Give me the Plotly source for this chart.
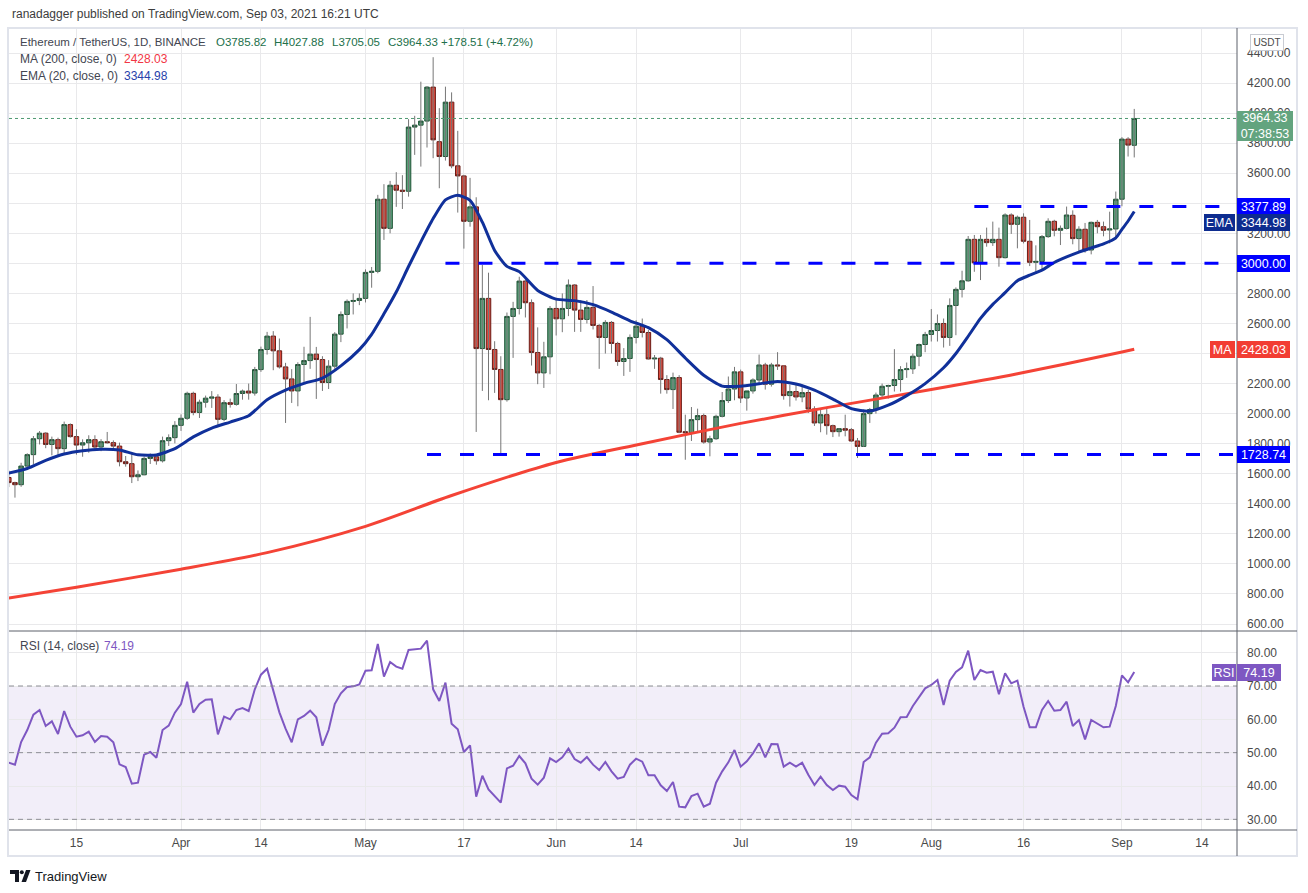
import plotly.graph_objects as go
import pandas as pd

# ---------------- data ----------------
dates = pd.date_range("2021-03-04", "2021-09-03", freq="D").strftime("%Y-%m-%d").tolist()

open_px = [
    1575, 1541, 1527, 1651, 1727, 1833, 1870, 1795, 1827, 1767, 1927, 1847, 1791, 1806, 1827, 1778, 1813, 1807, 1784, 1680, 1667, 1580, 1593, 1702, 1713, 1686, 1820, 1840,
    1922, 1969, 2135, 2008, 2076, 2103, 2110, 1962, 2073, 2062, 2134, 2150, 2137, 2293, 2427, 2516, 2418, 2311, 2231, 2151, 2327, 2353, 2396, 2360, 2207, 2316, 2529, 2660, 2747, 2753,
    2767, 2940, 2947, 3427, 3233, 3520, 3487, 3480, 3907, 3920, 3947, 4173, 3810, 3711, 4073, 3649, 3582, 3280, 3376, 2433, 2767, 2427, 2294, 2093, 2647, 2700, 2882, 2738, 2407, 2271, 2378,
    2700, 2631, 2700, 2856, 2689, 2627, 2707, 2587, 2507, 2607, 2467, 2347, 2367, 2507, 2582, 2540, 2364, 2369, 2227, 2160, 2240, 1880, 1873, 1960, 1987, 1811, 1833, 1982, 2087, 2164,
    2278, 2104, 2151, 2224, 2324, 2196, 2324, 2318, 2120, 2147, 2111, 2140, 2031, 1938, 1993, 1920, 1880, 1900, 1893, 1818, 1782, 2000, 2027, 2124, 2182, 2187, 2227, 2293, 2298, 2382, 2460,
    2527, 2553, 2600, 2507, 2720, 2827, 2884, 3160, 3004, 3160, 3138, 3160, 3038, 3322, 3260, 3307, 3147, 3007, 3013, 3178, 3280, 3220, 3233, 3320, 3165, 3227, 3089, 3273, 3244, 3222, 3229,
    3427, 3827, 3785.82,
]
high_px = [
    1622, 1547, 1673, 1736, 1851, 1884, 1876, 1847, 1840, 1947, 1935, 1896, 1829, 1856, 1856, 1830, 1878, 1822, 1807, 1718, 1745, 1622, 1715, 1735, 1728, 1847, 1862, 1950,
    1995, 2146, 2146, 2093, 2120, 2150, 2129, 2090, 2100, 2197, 2160, 2200, 2311, 2446, 2544, 2549, 2500, 2338, 2296, 2342, 2445, 2644, 2444, 2382, 2356, 2542, 2680, 2760, 2800, 2800,
    2960, 2976, 3456, 3527, 3549, 3607, 3587, 3960, 3982, 4209, 4180, 4372, 4033, 4176, 4138, 3882, 3589, 3569, 3440, 2989, 2938, 2482, 2382, 2673, 2744, 2911, 2893, 2760, 2574, 2478, 2716,
    2760, 2800, 2893, 2862, 2756, 2756, 2849, 2596, 2622, 2616, 2478, 2436, 2527, 2622, 2633, 2556, 2390, 2378, 2256, 2273, 2256, 1993, 2044, 2033, 2000, 1853, 1993, 2144, 2247, 2311,
    2293, 2113, 2235, 2393, 2338, 2338, 2409, 2318, 2193, 2193, 2193, 2160, 2049, 2031, 2042, 1927, 1902, 1993, 1904, 1838, 2027, 2038, 2140, 2200, 2193, 2429, 2316, 2340, 2400, 2467, 2544,
    2696, 2660, 2633, 2767, 2840, 2951, 3182, 3189, 3189, 3238, 3278, 3238, 3333, 3333, 3318, 3333, 3289, 3120, 3189, 3300, 3290, 3252, 3378, 3353, 3247, 3269, 3278, 3289, 3278, 3344, 3478,
    3840, 3840, 4027.88,
]
low_px = [
    1511, 1441, 1513, 1640, 1662, 1795, 1770, 1722, 1715, 1727, 1840, 1727, 1713, 1740, 1760, 1750, 1800, 1765, 1649, 1647, 1538, 1551, 1590, 1665, 1660, 1675, 1785, 1802,
    1885, 1958, 1989, 1971, 2040, 2038, 1922, 1950, 2040, 2053, 2093, 2093, 2120, 2278, 2393, 2289, 2300, 1938, 2071, 2049, 2207, 2298, 2098, 2151, 2164, 2298, 2476, 2567, 2660, 2722,
    2740, 2838, 2934, 3156, 3200, 3376, 3362, 3444, 3722, 3644, 3771, 3700, 3500, 3684, 3633, 3338, 3098, 3244, 1878, 2151, 2089, 2138, 1729, 2080, 2371, 2660, 2640, 2320, 2196, 2171, 2262,
    2520, 2542, 2649, 2544, 2544, 2600, 2560, 2298, 2400, 2400, 2318, 2251, 2278, 2467, 2507, 2360, 2298, 2133, 2133, 2031, 1870, 1693, 1818, 1880, 1800, 1716, 1825, 1975, 2071, 2089,
    2071, 2020, 2133, 2204, 2160, 2180, 2291, 2093, 2047, 2087, 2076, 2004, 1918, 1876, 1860, 1844, 1847, 1849, 1811, 1705, 1778, 1938, 2000, 2098, 2100, 2147, 2147, 2238, 2264, 2316, 2409,
    2480, 2480, 2440, 2451, 2522, 2773, 2878, 2944, 2889, 3111, 3116, 2978, 3033, 3196, 3100, 3133, 2982, 2944, 2962, 3170, 3180, 3122, 3226, 3127, 3071, 3071, 3060, 3200, 3180, 3133, 3160,
    3380, 3711, 3705.05,
]
close_px = [
    1541, 1527, 1651, 1727, 1833, 1870, 1795, 1827, 1767, 1927, 1847, 1791, 1806, 1827, 1778, 1813, 1807, 1784, 1680, 1667, 1580, 1593, 1702, 1713, 1686, 1820, 1840, 1922,
    1969, 2135, 2008, 2076, 2103, 2110, 1962, 2073, 2062, 2134, 2150, 2137, 2293, 2427, 2516, 2418, 2311, 2231, 2151, 2327, 2353, 2396, 2360, 2207, 2316, 2529, 2660, 2747, 2753, 2767,
    2940, 2947, 3427, 3233, 3520, 3487, 3480, 3907, 3920, 3947, 4173, 3822, 3711, 4073, 3649, 3582, 3280, 3376, 2433, 2767, 2427, 2294, 2093, 2647, 2700, 2882, 2738, 2407, 2271, 2378, 2700,
    2631, 2700, 2856, 2689, 2627, 2707, 2587, 2507, 2607, 2467, 2347, 2367, 2507, 2582, 2540, 2364, 2369, 2227, 2160, 2240, 1876, 1873, 1960, 1987, 1811, 1833, 1982, 2087, 2164, 2278,
    2104, 2151, 2224, 2324, 2196, 2324, 2318, 2120, 2147, 2111, 2140, 2031, 1938, 1993, 1920, 1880, 1900, 1890, 1818, 1782, 2000, 2027, 2124, 2182, 2187, 2227, 2293, 2298, 2382, 2460, 2527,
    2553, 2600, 2507, 2720, 2827, 2884, 3160, 3004, 3160, 3138, 3160, 3038, 3322, 3260, 3307, 3147, 3007, 3013, 3178, 3280, 3220, 3233, 3322, 3165, 3227, 3089, 3273, 3244, 3220, 3229, 3427,
    3827, 3787, 3964.33,
]

rsi_values = [
    47.0, 46.4, 53.2, 56.8, 61.4, 62.8, 58.0, 59.4, 55.6, 62.5, 57.8, 54.8, 55.2, 56.3, 53.2, 55.0, 54.8, 53.1, 46.5, 45.7, 40.7, 41.0, 49.4, 50.2, 48.5, 56.8, 58.1, 62.0,
    64.6, 71.3, 62.0, 64.6, 65.9, 66.0, 55.5, 60.8, 60.0, 62.8, 63.4, 62.5, 69.0, 73.4, 75.2, 68.8, 62.1, 57.2, 53.1, 60.0, 61.0, 62.6, 60.6, 52.1, 56.8, 64.6, 67.8, 69.7, 69.9, 70.5,
    74.6, 74.7, 82.6, 72.8, 77.2, 75.8, 75.2, 80.8, 81.0, 81.2, 83.6, 69.0, 65.5, 71.0, 58.7, 57.0, 50.2, 52.2, 36.8, 43.1, 39.0, 37.1, 35.0, 45.3, 46.1, 49.0, 46.8, 42.2, 40.4, 42.5, 48.3,
    47.2, 48.6, 51.2, 48.1, 47.0, 48.7, 46.4, 44.8, 47.2, 44.4, 42.2, 42.7, 46.4, 48.2, 47.3, 43.2, 43.2, 40.2, 38.5, 41.2, 33.8, 33.6, 37.0, 37.7, 33.8, 34.7, 41.0, 44.4, 47.1, 50.8,
    45.8, 47.4, 49.8, 52.8, 48.6, 52.6, 52.5, 45.8, 47.0, 45.8, 47.0, 43.4, 40.3, 42.8, 40.3, 38.8, 40.1, 39.8, 37.3, 36.0, 47.2, 48.6, 53.0, 55.7, 55.8, 57.5, 60.6, 60.7, 64.0, 66.8, 69.3,
    70.3, 71.8, 64.3, 71.6, 74.2, 75.6, 80.6, 71.8, 74.8, 74.0, 74.3, 67.5, 73.8, 70.8, 71.6, 63.8, 57.6, 57.6, 62.8, 65.5, 62.6, 62.8, 65.3, 58.0, 59.8, 54.0, 59.8, 58.8, 57.6, 57.8, 64.0,
    73.2, 71.1, 74.19,
]

ema_dates = [
    "2021-03-04", "2021-03-07", "2021-03-10", "2021-03-13", "2021-03-16", "2021-03-19", "2021-03-22", "2021-03-25", "2021-03-28", "2021-03-31",
    "2021-04-03", "2021-04-06", "2021-04-09", "2021-04-12", "2021-04-15", "2021-04-18", "2021-04-21", "2021-04-24", "2021-04-27", "2021-04-30",
    "2021-05-02", "2021-05-04", "2021-05-06", "2021-05-08", "2021-05-10", "2021-05-12", "2021-05-14", "2021-05-16", "2021-05-18", "2021-05-20",
    "2021-05-22", "2021-05-24", "2021-05-26", "2021-05-29", "2021-06-01", "2021-06-04", "2021-06-07", "2021-06-10", "2021-06-13", "2021-06-16",
    "2021-06-19", "2021-06-22", "2021-06-25", "2021-06-28", "2021-07-01", "2021-07-04", "2021-07-07", "2021-07-10", "2021-07-13", "2021-07-16",
    "2021-07-19", "2021-07-22", "2021-07-25", "2021-07-28", "2021-07-31", "2021-08-03", "2021-08-05", "2021-08-07", "2021-08-09", "2021-08-11",
    "2021-08-13", "2021-08-15", "2021-08-17", "2021-08-19", "2021-08-21", "2021-08-23", "2021-08-25", "2021-08-27", "2021-08-29", "2021-08-31",
    "2021-09-01", "2021-09-02", "2021-09-03",
]
ema_values = [
    1604, 1635, 1689, 1731, 1753, 1763, 1758, 1726, 1725, 1767,
    1845, 1904, 1944, 1986, 2092, 2156, 2201, 2237, 2318, 2426,
    2528, 2664, 2809, 2979, 3143, 3298, 3423, 3453, 3420, 3274,
    3086, 2980, 2945, 2820, 2762, 2752, 2725, 2676, 2618, 2572,
    2492, 2370, 2255, 2183, 2183, 2199, 2214, 2197, 2156, 2097,
    2033, 2017, 2056, 2120, 2200, 2305, 2400, 2515, 2634, 2727,
    2805, 2885, 2921, 2955, 3006, 3043, 3075, 3103, 3130, 3170,
    3226, 3282, 3344.98,
]

ma_dates = ["2021-03-04", "2021-03-15", "2021-04-01", "2021-04-15", "2021-05-01", "2021-05-15", "2021-06-01",
            "2021-06-15", "2021-07-01", "2021-07-15", "2021-08-01", "2021-08-15", "2021-09-01", "2021-09-03"]
ma_values = [773, 845, 965, 1075, 1250, 1455, 1675, 1800, 1935, 2040, 2160, 2265, 2410, 2428.03]

level_values = [3377.89, 3000.00, 1728.74]
level_starts = ["2021-08-08", "2021-05-14", "2021-05-11"]

tick_dates = ["2021-03-15", "2021-04-01", "2021-04-14", "2021-05-01", "2021-05-17", "2021-06-01", "2021-06-14",
              "2021-07-01", "2021-07-19", "2021-08-01", "2021-08-16", "2021-09-01", "2021-09-14"]
tick_text = ["15", "Apr", "14", "May", "17", "Jun", "14", "Jul", "19", "Aug", "16", "Sep", "14"]

price_ticks = list(range(600, 4401, 200))
hidden_price_ticks = [3400, 3000, 2400]   # fully covered by the price tags
rsi_ticks = [30, 40, 50, 60, 70, 80]

last_price = 3964.33
ma_last = 2428.03
ema_last = 3344.98
rsi_last = 74.19

assert len(dates) == len(open_px) == len(high_px) == len(low_px) == len(close_px) == len(rsi_values), \
    (len(dates), len(open_px), len(high_px), len(low_px), len(close_px), len(rsi_values))

# ---------------- style / layout constants ----------------
W, H = 1308, 893
PL, PR, PT, PB = 9, 1237, 28, 830      # plot area in pixels
SEP = 631                              # pane separator
FRAME_R, FRAME_B = 1297, 856
FONT = "Liberation Sans, Arial, sans-serif"
GRID = "#e9e9eb"
TXT = "#4a4a4a"
UP_FILL, UP_LINE = "#5a9f7a", "#1f5436"
DN_FILL, DN_LINE = "#d9493d", "#6b1b15"
WICK = "#767676"
EMA_COL = "#10309a"
MA_COL = "#f44336"
LVL_COL = "#0000ff"
RSI_COL = "#7e57c2"

def xp(px):
    return (px - PL) / (PR - PL)

def yp(py):
    return (PB - py) / (PB - PT)

sep_frac = yp(SEP)
x_range = ["2021-03-04 00:45", "2021-09-19 17:00"]

fig = go.Figure()

# wicks
wx, wy = [], []
for d, h, l in zip(dates, high_px, low_px):
    wx += [d, d, None]
    wy += [l, h, None]
fig.add_trace(go.Scatter(x=wx, y=wy, mode="lines", line=dict(color=WICK, width=1),
                         hoverinfo="skip", xaxis="x", yaxis="y"))

# bodies
body_hi = [max(o, c) for o, c in zip(open_px, close_px)]
body_lo = [min(o, c) for o, c in zip(open_px, close_px)]
fig.add_trace(go.Candlestick(
    x=dates, open=open_px, high=body_hi, low=body_lo, close=close_px,
    increasing=dict(fillcolor=UP_FILL, line=dict(color=UP_LINE, width=1)),
    decreasing=dict(fillcolor=DN_FILL, line=dict(color=DN_LINE, width=1)),
    xaxis="x", yaxis="y", hoverinfo="skip"))

# moving averages
fig.add_trace(go.Scatter(x=ma_dates, y=ma_values, mode="lines",
                         line=dict(color=MA_COL, width=3, shape="spline", smoothing=0.8),
                         xaxis="x", yaxis="y", hoverinfo="skip"))
fig.add_trace(go.Scatter(x=ema_dates, y=ema_values, mode="lines",
                         line=dict(color=EMA_COL, width=3, shape="spline", smoothing=0.6),
                         xaxis="x", yaxis="y", hoverinfo="skip"))

# RSI
fig.add_trace(go.Scatter(x=dates, y=rsi_values, mode="lines", line=dict(color=RSI_COL, width=2),
                         xaxis="x", yaxis="y2", hoverinfo="skip"))

shapes = []
shapes.append(dict(type="rect", xref="paper", yref="y2", x0=0, x1=1, y0=30, y1=70,
                   fillcolor="rgba(126,87,194,0.10)", line=dict(width=0), layer="below"))
for v in (30, 50, 70):
    shapes.append(dict(type="line", xref="paper", yref="y2", x0=0, x1=1, y0=v, y1=v,
                       line=dict(color="#8d8d96", width=1, dash="5px,4px")))
shapes.append(dict(type="line", xref="paper", yref="y", x0=0, x1=1, y0=last_price, y1=last_price,
                   line=dict(color="#4f9a72", width=1, dash="dot")))
for v, s in zip(level_values, level_starts):
    shapes.append(dict(type="line", xref="x", yref="y", x0=s, x1=x_range[1], y0=v, y1=v,
                       line=dict(color=LVL_COL, width=3, dash="14px,19px")))
shapes.append(dict(type="rect", xref="paper", yref="paper", x0=xp(PL - 1), x1=xp(FRAME_R),
                   y0=yp(FRAME_B), y1=yp(PT), line=dict(color="#e0e3eb", width=2)))
shapes.append(dict(type="line", xref="paper", yref="paper", x0=xp(PL), x1=xp(FRAME_R),
                   y0=sep_frac, y1=sep_frac, line=dict(color="#5d606b", width=1)))
shapes.append(dict(type="line", xref="paper", yref="paper", x0=xp(PL), x1=xp(FRAME_R),
                   y0=0, y1=0, line=dict(color="#5d606b", width=1)))
shapes.append(dict(type="line", xref="paper", yref="paper", x0=1, x1=1,
                   y0=yp(FRAME_B), y1=1, line=dict(color="#5d606b", width=1)))

# TradingView logo (footer)
def ppath(points):
    return "M " + " L ".join(f"{xp(a):.5f},{yp(b):.5f}" for a, b in points) + " Z"

shapes.append(dict(type="path", xref="paper", yref="paper",
                   path=ppath([(10, 870), (19, 870), (19, 882), (15, 882), (15, 874), (10, 874)]),
                   fillcolor="#131722", line=dict(width=0)))
shapes.append(dict(type="circle", xref="paper", yref="paper", x0=xp(19.8), x1=xp(23.8),
                   y0=yp(874.2), y1=yp(870.2), fillcolor="#131722", line=dict(width=0)))
shapes.append(dict(type="path", xref="paper", yref="paper",
                   path=ppath([(21.5, 882), (26, 870), (30.5, 870), (26, 882)]),
                   fillcolor="#131722", line=dict(width=0)))

ann = []
def text(x, y, s, color=TXT, size=12, anchor="left"):
    ann.append(dict(x=xp(x), y=yp(y), xref="paper", yref="paper", text=s, showarrow=False,
                    xanchor=anchor, yanchor="middle", font=dict(family=FONT, size=size, color=color)))

text(10, 14, "ranadagger published on TradingView.com, Sep 03, 2021 16:21 UTC", color="#3c3c3c", size=12)
GREEN_TXT = "#22704a"
LBL = "#434651"
ROW1 = 11.5
text(18, 42, "Ethereum / TetherUS, 1D, BINANCE", color=LBL, size=ROW1)
text(214, 42, "O3785.82", color=GREEN_TXT, size=ROW1)
text(272, 42, "H4027.88", color=GREEN_TXT, size=ROW1)
text(330, 42, "L3705.05", color=GREEN_TXT, size=ROW1)
text(386, 42, "C3964.33", color=GREEN_TXT, size=ROW1)
text(439, 42, "+178.51 (+4.72%)", color=GREEN_TXT, size=ROW1)
text(18, 59, "MA (200, close, 0)", color=LBL)
text(122, 59, f"{ma_last:.2f}", color="#f23645")
text(18, 76, "EMA (20, close, 0)", color=LBL)
text(122, 76, f"{ema_last:.2f}", color="#2742aa")
text(18, 646, "RSI (14, close)", color=LBL)
text(102, 646, f"{rsi_last:.2f}", color=RSI_COL)
text(33, 876, "TradingView", color="#131722", size=13)

def tag(s, y, yref, bg, width, height=13, anchor="left", xshift=0, yshift=0,
        fcolor="white", border=None, size=12.5):
    d = dict(x=1, y=y, xref="paper", yref=yref, text=s, showarrow=False, xanchor=anchor,
             yanchor="middle", xshift=xshift, yshift=yshift, bgcolor=bg, width=width, height=height,
             borderpad=2, align="center", font=dict(family=FONT, size=size, color=fcolor))
    if border:
        d.update(bordercolor=border, borderwidth=1)
    else:
        d.update(borderwidth=0)
    ann.append(d)

tag("USDT", yp(42.5), "paper", "white", 28, height=11, xshift=13, fcolor=TXT, border="#c9ccd3", size=10)
tag(f"{last_price:.2f}<br>07:38:53", last_price, "y", "#63a47f", 52, height=26, yshift=-7.5)
tag(f"{level_values[0]:.2f}", level_values[0], "y", LVL_COL, 49)
tag(f"{ema_last:.2f}", ema_last, "y", "#0d2c8f", 49, yshift=-11)
tag("EMA", ema_last, "y", "#0d2c8f", 27, anchor="right", xshift=-2, yshift=-11)
tag(f"{level_values[1]:.2f}", level_values[1], "y", LVL_COL, 49)
tag(f"{ma_last:.2f}", ma_last, "y", "#f23d33", 49)
tag("MA", ma_last, "y", "#f23d33", 21, anchor="right", xshift=-2)
tag(f"{level_values[2]:.2f}", level_values[2], "y", LVL_COL, 49)
tag(f"{rsi_last:.2f}", rsi_last, "y2", RSI_COL, 40)
tag("RSI", rsi_last, "y2", RSI_COL, 20, anchor="right", xshift=-1)

price_text = ["" if v in hidden_price_ticks else f"{v:.2f}" for v in price_ticks]

fig.update_layout(
    width=W, height=H,
    margin=dict(l=PL, r=W - PR, t=PT, b=H - PB, pad=0),
    paper_bgcolor="white", plot_bgcolor="white",
    showlegend=False, boxgap=0.27, boxgroupgap=0,
    font=dict(family=FONT, size=12, color=TXT),
    xaxis=dict(type="date", range=x_range, rangeslider=dict(visible=False), anchor="y2",
               tickvals=tick_dates, ticktext=tick_text, showgrid=True, gridcolor=GRID, gridwidth=1,
               zeroline=False, showline=False, ticks="", ticklabelstandoff=4,
               tickfont=dict(family=FONT, size=12, color=TXT)),
    yaxis=dict(domain=[sep_frac, 1], range=[553.4, 4566.4], side="right", anchor="x",
               tickvals=price_ticks, ticktext=price_text, showgrid=True, gridcolor=GRID,
               zeroline=False, showline=False, ticks="", ticklabelstandoff=9,
               tickfont=dict(family=FONT, size=12, color=TXT)),
    yaxis2=dict(domain=[0, sep_frac], range=[26.8, 86.5], side="right", anchor="x",
                tickvals=rsi_ticks, ticktext=[f"{v:.2f}" for v in rsi_ticks], showgrid=True, gridcolor=GRID,
                zeroline=False, showline=False, ticks="", ticklabelstandoff=9,
                tickfont=dict(family=FONT, size=12, color=TXT)),
    shapes=shapes, annotations=ann,
)

fig.write_html("out.html", config={"displayModeBar": False},
               post_script="document.body.style.margin='0px';document.body.style.overflow='hidden';")
